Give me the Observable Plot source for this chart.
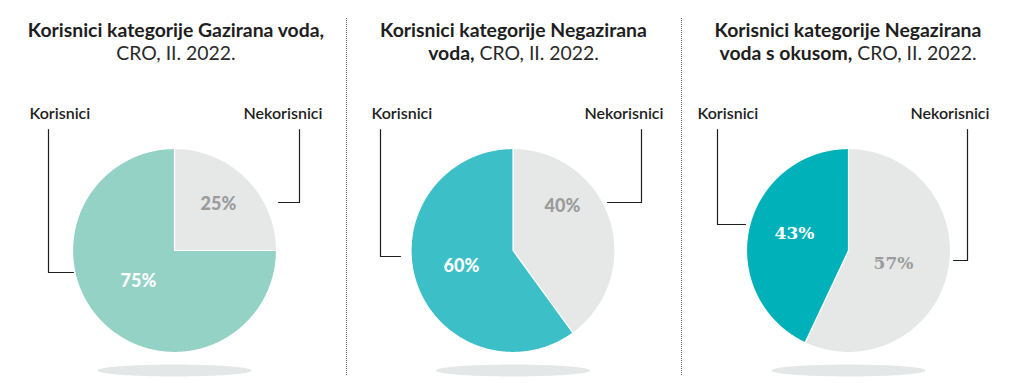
<!DOCTYPE html>
<html><head><meta charset="utf-8">
<script src="https://cdn.jsdelivr.net/npm/d3@7"></script>
<script src="https://cdn.jsdelivr.net/npm/@observablehq/plot@0.6"></script>
<style>
html,body{margin:0;padding:0;background:#fff;}
#wrap{position:relative;width:1011px;height:383px;overflow:hidden;font-family:Lato,"Open Sans",sans-serif;}
#head{position:relative;height:70px;}
.title{position:absolute;top:18px;width:340px;text-align:center;font-size:19.4px;line-height:23px;color:#1e1e1e;white-space:nowrap;}
.title b{font-weight:700}
.title span{font-weight:400;color:#2a2a2a}
.sep{position:absolute;top:18px;height:357px;width:0;border-left:1px dotted #6a6a6a;}
#chart svg{display:block;}
</style></head><body>
<div id="wrap"><div id="head"></div><div id="chart"></div></div>
<script>
// ---- data ----
const categories = ["Gazirana voda", "Negazirana voda", "Negazirana voda s okusom"];
const titleBoldLine1 = ["Korisnici kategorije Gazirana voda,", "Korisnici kategorije Negazirana", "Korisnici kategorije Negazirana"];
const titleBoldLine2 = ["", "voda,", "voda s okusom,"];
const subtitle = "CRO, II. 2022.";
const seriesNames = ["Nekorisnici", "Korisnici"];
const nonUsers = [25, 40, 57];
const users = [75, 60, 43];

// ---- layout / style (not data) ----
const userColors = ["#94d2c5", "#3cbfc6", "#00b1b9"];
const nonUserColor = "#e5e8e7";
const shadowColor = "#e4e7e7";
const centersX = [174, 512.5, 848];
const centerY = 250;
const radius = 102;
const titleCenters = [176, 513.5, 848];
const sepX = [346, 681];
const leftLeader = [[48, 272, 73], [380, 256, 400], [717, 224, 745]];   // x, yTurn, xEnd
const rightLeader = [[299, 202, 278], [641, 202, 607], [967, 260, 953]];
const leaderTop = 129;
const labelY = 113;
const korisniciX = [29, 371, 697];
const nekorisniciX = [322, 663, 989];
// percentage label offsets from pie centre: [nonUsers, users]
const pctOffsets = [[[44, -46], [-36, 31]], [[49.5, -44], [-51.5, 16]], [[45, 13], [-54, -17]]];

// ---- titles (HTML) ----
const head = document.getElementById("head");
categories.forEach((c, i) => {
  const d = document.createElement("div");
  d.className = "title";
  d.style.left = (titleCenters[i] - 170) + "px";
  if (titleBoldLine2[i]) {
    d.innerHTML = `<b>${titleBoldLine1[i]}</b><br><b>${titleBoldLine2[i]}</b><span> ${subtitle}</span>`;
  } else {
    d.innerHTML = `<b>${titleBoldLine1[i]}</b><br><span>${subtitle}</span>`;
  }
  head.appendChild(d);
});
sepX.forEach(x => {
  const s = document.createElement("div");
  s.className = "sep";
  s.style.left = x + "px";
  document.getElementById("wrap").appendChild(s);
});

// ---- build geometry from values ----
const pie = d3.pie().sort(null).value(d => d.value);
const slices = [];
const pctLabels = [];
const shadows = [];
const leaders = [];
const seriesLabels = [];
categories.forEach((cat, i) => {
  const arcs = pie([{name: seriesNames[0], value: nonUsers[i]}, {name: seriesNames[1], value: users[i]}]);
  arcs.forEach((a, j) => {
    const key = cat + "|" + a.data.name;
    const color = j === 0 ? nonUserColor : userColors[i];
    slices.push({key, color, x: centersX[i], y: centerY});
    const n = Math.max(2, Math.ceil((a.endAngle - a.startAngle) / (Math.PI / 360)));
    for (let k = 0; k <= n; k++) {
      const t = a.startAngle + (a.endAngle - a.startAngle) * k / n;
      slices.push({key, color, x: centersX[i] + radius * Math.sin(t), y: centerY - radius * Math.cos(t)});
    }
    pctLabels.push({
      text: a.data.value + "%",
      x: centersX[i] + pctOffsets[i][j][0],
      y: centerY + pctOffsets[i][j][1],
      fill: j === 0 ? "#9b9b9b" : "#ffffff",
      serif: i === 2
    });
  });
  for (let k = 0; k < 120; k++) {
    const t = 2 * Math.PI * k / 120;
    shadows.push({key: cat, x: centersX[i] + 77 * Math.cos(t), y: 370 + 6 * Math.sin(t)});
  }
  const [lx, ly, le] = leftLeader[i];
  [[lx, leaderTop], [lx, ly], [le, ly]].forEach(p => leaders.push({key: cat + "L", x: p[0], y: p[1]}));
  const [rx, ry, re] = rightLeader[i];
  [[rx, leaderTop], [rx, ry], [re, ry]].forEach(p => leaders.push({key: cat + "R", x: p[0], y: p[1]}));
  seriesLabels.push({text: seriesNames[1], x: korisniciX[i], y: labelY, anchor: "start"});
  seriesLabels.push({text: seriesNames[0], x: nekorisniciX[i], y: labelY, anchor: "end"});
});

const chart = Plot.plot({
  width: 1011,
  height: 313,
  margin: 0,
  x: {type: "linear", domain: [0, 1011], range: [0, 1011], axis: null},
  y: {type: "linear", domain: [70, 383], range: [0, 313], axis: null},
  color: {type: "identity"},
  style: {background: "transparent", overflow: "visible"},
  marks: [
    Plot.line(shadows, {x: "x", y: "y", z: "key", fill: shadowColor, stroke: "none", curve: "linear-closed"}),
    Plot.line(slices, {x: "x", y: "y", z: "key", fill: "color", stroke: "#ffffff", strokeWidth: 1.2, strokeLinejoin: "round", curve: "linear-closed"}),
    Plot.line(leaders, {x: "x", y: "y", z: "key", stroke: "#1e1e1e", strokeWidth: 1.2}),
    Plot.text(seriesLabels.filter(d => d.anchor === "start"), {x: "x", y: "y", text: "text", textAnchor: "start", fontSize: 16, fontWeight: 600, fill: "#1e1e1e", fontFamily: "Lato"}),
    Plot.text(seriesLabels.filter(d => d.anchor === "end"), {x: "x", y: "y", text: "text", textAnchor: "end", fontSize: 16, fontWeight: 600, fill: "#1e1e1e", fontFamily: "Lato"}),
    Plot.text(pctLabels.filter(d => !d.serif), {x: "x", y: "y", text: "text", fill: "fill", fontSize: 18, fontWeight: 900, fontFamily: "Lato"}),
    Plot.text(pctLabels.filter(d => d.serif), {x: "x", y: "y", text: "text", fill: "fill", fontSize: 17, fontWeight: "bold", fontFamily: "DejaVu Serif"})
  ]
});
document.getElementById("chart").appendChild(chart);
</script>
</body></html>
